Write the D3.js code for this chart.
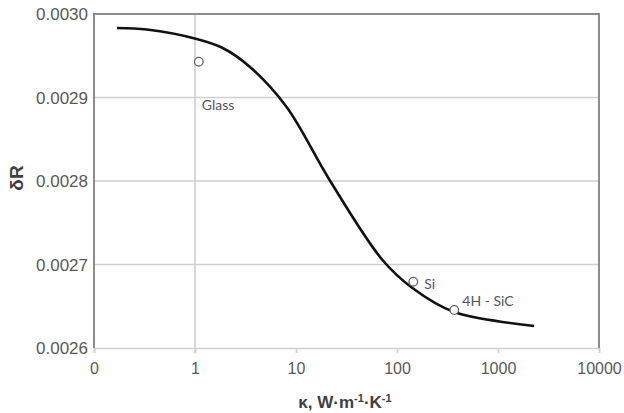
<!DOCTYPE html>
<html><head><meta charset="utf-8">
<script src="https://cdn.jsdelivr.net/npm/d3@7"></script>
<style>body{margin:0;background:#fff}svg{display:block}</style>
</head><body>
<svg id="c" width="624" height="413"></svg>
<script>
// Data
const curveK = [0.169, 0.334, 1.04, 1.88, 3.48, 8.07, 21.5, 71.8, 142, 369, 2280];
const curveR = [0.0029832, 0.0029814, 0.0029701, 0.0029593, 0.0029369, 0.0028886, 0.0028012, 0.0027054, 0.0026719, 0.0026431, 0.0026264];
const matNames = ["Glass", "Si", "4H - SiC"];
const matK = [1.09, 145, 369];
const matR = [0.0029429, 0.0026794, 0.0026455];
const xTickVals = [0.1, 1, 10, 100, 1000, 10000];
const xTickLabels = ["0", "1", "10", "100", "1000", "10000"];
const yTickVals = [0.0026, 0.0027, 0.0028, 0.0029, 0.0030];
const yTickLabels = ["0.0026", "0.0027", "0.0028", "0.0029", "0.0030"];

const svg = d3.select("#c");
const L = 94, R = 599, T = 14, B = 348;
const x = d3.scaleLog().domain([0.1, 10000]).range([L, R]);
const y = d3.scaleLinear().domain([0.0026, 0.0030]).range([B, T]);
const grid = "#cfcfcf", frame = "#8c8c8c", txt = "#595959";

// horizontal gridlines
svg.append("g").selectAll("line").data(yTickVals.slice(1, 4)).join("line")
  .attr("x1", L).attr("x2", R).attr("y1", d => y(d)).attr("y2", d => y(d))
  .attr("stroke", grid).attr("stroke-width", 1.6);
// vertical line at 1
svg.append("line").attr("x1", x(1)).attr("x2", x(1)).attr("y1", T).attr("y2", B + 5)
  .attr("stroke", grid).attr("stroke-width", 1.6);

// bottom axis
const xAxis = d3.axisBottom(x).tickValues(xTickVals).tickSize(5)
  .tickFormat((d, i) => xTickLabels[i]);
const gx = svg.append("g").attr("transform", `translate(0,${B})`).call(xAxis);
gx.select(".domain").attr("stroke", grid).attr("stroke-width", 1.6);
gx.selectAll(".tick line").attr("stroke", grid).attr("stroke-width", 1.6);
gx.selectAll(".tick text").attr("fill", txt).attr("font-family", "Liberation Sans, Arial, sans-serif")
  .attr("font-size", 16).attr("dy", null).attr("y", 26);

// left axis (labels only)
const yAxis = d3.axisLeft(y).tickValues(yTickVals).tickSize(0)
  .tickFormat((d, i) => yTickLabels[i]);
const gy = svg.append("g").attr("transform", `translate(${L},0)`).call(yAxis);
gy.select(".domain").remove();
gy.selectAll(".tick text").attr("fill", txt).attr("font-family", "Liberation Sans, Arial, sans-serif")
  .attr("font-size", 17).attr("x", -6).attr("dy", "0.35em");

// frame: left, top, right
svg.append("path")
  .attr("d", `M${L},${B}V${T}H${R}V${B}`)
  .attr("fill", "none").attr("stroke", frame).attr("stroke-width", 2);

// curve
const pts = curveK.map((k, i) => [x(k), y(curveR[i])]);
svg.append("path").datum(pts)
  .attr("d", d3.line().curve(d3.curveCatmullRom.alpha(0.5)))
  .attr("fill", "none").attr("stroke", "#111").attr("stroke-width", 2.6);

// markers
svg.append("g").selectAll("circle").data(matK).join("circle")
  .attr("cx", d => x(d)).attr("cy", (d, i) => y(matR[i])).attr("r", 4.3)
  .attr("fill", "#fff").attr("stroke", "#666").attr("stroke-width", 1.3);

// labels
const lblDx = [3, 11, 8], lblDy = [48, 7, -4];
svg.append("g").selectAll("text").data(matNames).join("text")
  .attr("x", (d, i) => x(matK[i]) + lblDx[i])
  .attr("y", (d, i) => y(matR[i]) + lblDy[i])
  .attr("fill", "#555").attr("font-family", "Lato, Open Sans, sans-serif").attr("font-size", 14)
  .text(d => d);

// axis titles
const xt = svg.append("text").attr("x", 345).attr("y", 408).attr("text-anchor", "middle")
  .attr("fill", "#404040").attr("font-family", "Liberation Sans, Arial, sans-serif")
  .attr("font-size", 17).attr("font-weight", "bold");
xt.append("tspan").text("κ, W·m");
xt.append("tspan").attr("dy", -6).attr("font-size", 11).text("-1");
xt.append("tspan").attr("dy", 6).text("·K");
xt.append("tspan").attr("dy", -6).attr("font-size", 11).text("-1");

svg.append("text").attr("transform", "translate(23,178) rotate(-90)").attr("text-anchor", "middle")
  .attr("fill", "#404040").attr("font-family", "Liberation Sans, Arial, sans-serif")
  .attr("font-size", 19).attr("font-weight", "bold").text("δR");
</script>
</body></html>
